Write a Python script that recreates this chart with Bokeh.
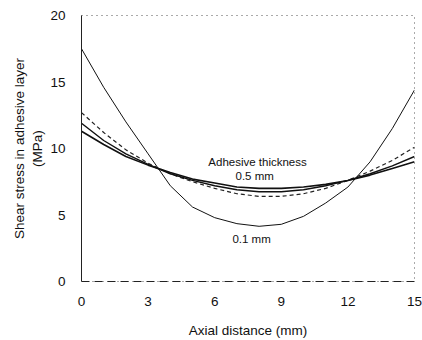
from bokeh.plotting import figure
from bokeh.models import Label, FixedTicker, Range1d
from bokeh.embed import file_html
from bokeh.resources import INLINE

x_mm = [0, 1, 2, 3, 4, 5, 6, 7, 8, 9, 10, 11, 12, 13, 14, 15]
t01 = [17.5, 14.6, 12.0, 9.6, 7.2, 5.6, 4.8, 4.35, 4.15, 4.3, 4.9, 5.9, 7.1, 9.0, 11.5, 14.4]
t02 = [12.7, 11.2, 9.9, 8.9, 8.1, 7.5, 7.0, 6.6, 6.4, 6.4, 6.6, 7.0, 7.6, 8.3, 9.1, 10.1]
t03 = [11.9, 10.6, 9.6, 8.8, 8.1, 7.6, 7.2, 6.9, 6.75, 6.75, 6.9, 7.2, 7.6, 8.1, 8.7, 9.4]
t05 = [11.3, 10.3, 9.4, 8.75, 8.2, 7.7, 7.4, 7.1, 7.0, 7.0, 7.1, 7.3, 7.6, 8.0, 8.5, 9.0]

x_ticks = [0, 3, 6, 9, 12, 15]
y_ticks = [0, 5, 10, 15, 20]

FONT = "Liberation Sans"

p = figure(width=422, height=340, output_backend="svg", toolbar_location=None,
           x_range=Range1d(0, 15), y_range=Range1d(0, 20),
           min_border_left=81, min_border_right=8, min_border_top=15, min_border_bottom=57)
p.grid.visible = False
p.background_fill_color = "white"
p.border_fill_color = "white"
p.outline_line_color = "#555555"
p.outline_line_dash = "1 4"
p.outline_line_width = 1

p.line(x_mm, t01, line_color="#111111", line_width=1)
p.line(x_mm, t02, line_color="#222222", line_width=1.2, line_dash="4 3")
p.line(x_mm, t03, line_color="#111111", line_width=1.4)
p.line(x_mm, t05, line_color="#111111", line_width=1.6)

for ax in (p.xaxis[0], p.yaxis[0]):
    ax.major_tick_line_color = None
    ax.minor_tick_line_color = None
    ax.major_label_text_font = FONT
    ax.major_label_text_font_size = "13.5px"
    ax.major_label_text_color = "#111111"
    ax.axis_label_text_font = FONT
    ax.axis_label_text_font_size = "13.5px"
    ax.axis_label_text_font_style = "normal"
    ax.axis_label_text_color = "#111111"
    ax.axis_line_color = "#222222"

p.xaxis.ticker = FixedTicker(ticks=x_ticks)
p.yaxis.ticker = FixedTicker(ticks=y_ticks)
p.xaxis.axis_label = "Axial distance (mm)"
p.yaxis.axis_label = "Shear stress in adhesive layer\n(MPa)"
p.xaxis.major_label_standoff = 9
p.yaxis.major_label_standoff = 10
p.xaxis.axis_label_standoff = 14
p.yaxis.axis_label_standoff = 2
p.xaxis.axis_line_dash = "8 5"

for txt, xx, yy in [("Adhesive thickness", 7.93, 9.0), ("0.5 mm", 7.8, 7.9), ("0.1 mm", 7.66, 3.2)]:
    p.add_layout(Label(x=xx, y=yy, text=txt, text_align="center", text_baseline="middle",
                       text_font=FONT, text_font_size="11.5px", text_color="#111111"))

open("out.html", "w").write(file_html(p, INLINE))
